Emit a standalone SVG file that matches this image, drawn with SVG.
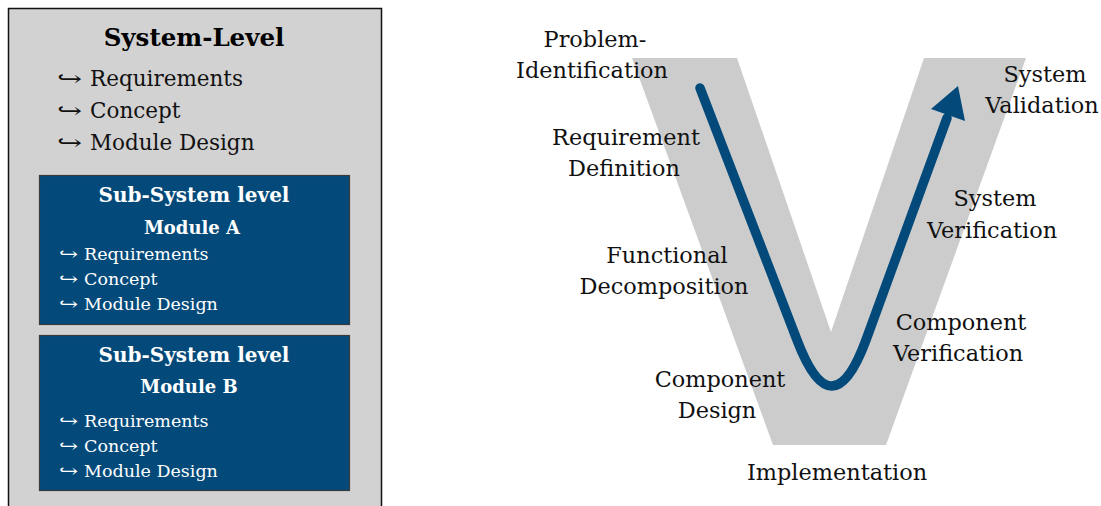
<svg xmlns="http://www.w3.org/2000/svg" width="1101" height="506" viewBox="0 0 1101 506">
  <style>
    text { font-family: "DejaVu Serif", "Liberation Serif", serif; }
    .lbl { font-size: 22.4px; fill: #111; text-anchor: middle; }
    .sys-title { font-size: 24.5px; font-weight: bold; fill: #000; text-anchor: middle; }
    .sys-item { font-size: 21.5px; fill: #111; }
    .sub-title { font-size: 20px; font-weight: bold; fill: #fff; text-anchor: middle; }
    .sub-mod { font-size: 18px; font-weight: bold; fill: #fff; text-anchor: middle; }
    .sub-item { font-size: 17.5px; fill: #fff; }
    .subbox { fill: #034a7a; stroke: #3a3a3a; stroke-width: 1.2; }
  </style>

  <!-- System level panel -->
  <g id="system-level">
    <rect x="8.5" y="8.5" width="373" height="510" fill="#d2d2d2" stroke="#111" stroke-width="1.5"/>
    <text class="sys-title" x="194" y="46">System-Level</text>
    <text class="sys-item" x="57" y="86" textLength="25" lengthAdjust="spacingAndGlyphs">↪</text><text class="sys-item" x="90" y="86">Requirements</text>
    <text class="sys-item" x="57" y="118" textLength="25" lengthAdjust="spacingAndGlyphs">↪</text><text class="sys-item" x="90" y="118">Concept</text>
    <text class="sys-item" x="57" y="150" textLength="25" lengthAdjust="spacingAndGlyphs">↪</text><text class="sys-item" x="90" y="150">Module Design</text>
  </g>

  <!-- Sub-system module A -->
  <g id="module-a">
    <rect class="subbox" x="39.5" y="175.5" width="310" height="149"/>
    <text class="sub-title" x="194" y="202">Sub-System level</text>
    <text class="sub-mod" x="192" y="234">Module A</text>
    <text class="sub-item" x="59" y="260" textLength="19" lengthAdjust="spacingAndGlyphs">↪</text><text class="sub-item" x="84" y="260">Requirements</text>
    <text class="sub-item" x="59" y="285" textLength="19" lengthAdjust="spacingAndGlyphs">↪</text><text class="sub-item" x="84" y="285">Concept</text>
    <text class="sub-item" x="59" y="310" textLength="19" lengthAdjust="spacingAndGlyphs">↪</text><text class="sub-item" x="84" y="310">Module Design</text>
  </g>

  <!-- Sub-system module B -->
  <g id="module-b">
    <rect class="subbox" x="39.5" y="335.5" width="310" height="155"/>
    <text class="sub-title" x="194" y="362">Sub-System level</text>
    <text class="sub-mod" x="189" y="393">Module B</text>
    <text class="sub-item" x="59" y="427" textLength="19" lengthAdjust="spacingAndGlyphs">↪</text><text class="sub-item" x="84" y="427">Requirements</text>
    <text class="sub-item" x="59" y="452" textLength="19" lengthAdjust="spacingAndGlyphs">↪</text><text class="sub-item" x="84" y="452">Concept</text>
    <text class="sub-item" x="59" y="477" textLength="19" lengthAdjust="spacingAndGlyphs">↪</text><text class="sub-item" x="84" y="477">Module Design</text>
  </g>

  <!-- V-model band -->
  <g id="v-shape">
    <polygon points="632,58 737,58 831,332 924,58 1026,58 886,445 773,445" fill="#cccccc"/>
  </g>

  <!-- Process flow along the V -->
  <g id="connectors">
    <path d="M700,88 L797,340 Q832,432 866,340 L947,118" fill="none" stroke="#034a7a" stroke-width="9.5" stroke-linecap="round" stroke-linejoin="round"/>
    <polygon points="958,86 931,109 965,121" fill="#034a7a"/>
  </g>

  <!-- Phase labels -->
  <g id="phase-problem"><text class="lbl" x="595" y="47">Problem-</text><text class="lbl" x="592" y="78">Identification</text></g>
  <g id="phase-requirement"><text class="lbl" x="626" y="145">Requirement</text><text class="lbl" x="624" y="176">Definition</text></g>
  <g id="phase-functional"><text class="lbl" x="667" y="263">Functional</text><text class="lbl" x="664" y="294">Decomposition</text></g>
  <g id="phase-comp-design"><text class="lbl" x="720" y="387">Component</text><text class="lbl" x="717" y="418">Design</text></g>
  <g id="phase-implementation"><text class="lbl" x="837" y="480">Implementation</text></g>
  <g id="phase-comp-verif"><text class="lbl" x="961" y="330">Component</text><text class="lbl" x="958" y="361">Verification</text></g>
  <g id="phase-sys-verif"><text class="lbl" x="995" y="206">System</text><text class="lbl" x="992" y="238">Verification</text></g>
  <g id="phase-sys-valid"><text class="lbl" x="1045" y="82">System</text><text class="lbl" x="1042" y="113">Validation</text></g>
</svg>
